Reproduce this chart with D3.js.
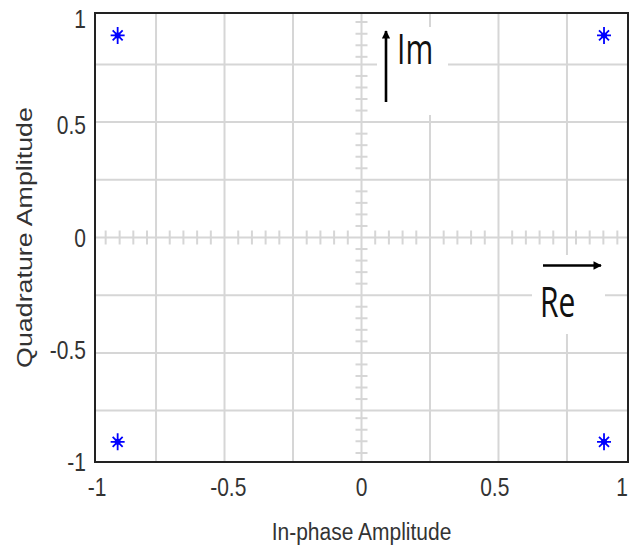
<!DOCTYPE html>
<html>
<head>
<meta charset="utf-8">
<script src="https://cdn.jsdelivr.net/npm/d3@7"></script>
<style>
  html, body { margin: 0; padding: 0; background: #fff; }
  svg { display: block; }
</style>
</head>
<body>
<svg id="chart" width="636" height="547"></svg>
<script>
// ---- data ----
const xTicks = [-1, -0.5, 0, 0.5, 1];
const xTickLabels = ["-1", "-0.5", "0", "0.5", "1"];
const yTicks = [-1, -0.5, 0, 0.5, 1];
const yTickLabels = ["-1", "-0.5", "0", "0.5", "1"];
const pointsI = [-0.915, 0.91, -0.915, 0.91];
const pointsQ = [0.9, 0.9, -0.91, -0.91];
const gridDivisions = [-0.771, -0.514, -0.257, 0.257, 0.514, 0.771];
const minorTickValues = [-0.96, -0.9076, -0.8562, -0.8048,
  -0.7196, -0.6682, -0.6168, -0.5654,
  -0.4626, -0.4112, -0.3598, -0.3084,
  -0.2056, -0.1542, -0.1028, -0.0514,
  0.0514, 0.1028, 0.1542, 0.2056,
  0.3084, 0.3598, 0.4112, 0.4626,
  0.5654, 0.6168, 0.6682, 0.7196,
  0.8048, 0.8562, 0.9076, 0.96];
const xTitle = "In-phase Amplitude";
const yTitle = "Quadrature Amplitude";

// ---- layout ----
const L = 95, R = 628, T = 13, B = 462;
const svg = d3.select("#chart");
svg.append("rect").attr("width", 636).attr("height", 547).attr("fill", "#fff");

const x = d3.scaleLinear().domain([-1, 1]).range([L, R]);
const y = d3.scaleLinear().domain([-1, 1]).range([B, T]);

const gridColor = "#d6d6d6";
const g = svg.append("g");

// grid lines
g.selectAll("line.gx").data(gridDivisions).join("line")
  .attr("x1", d => x(d)).attr("x2", d => x(d))
  .attr("y1", T).attr("y2", B)
  .attr("stroke", gridColor).attr("stroke-width", 2);
g.selectAll("line.gy").data(gridDivisions).join("line")
  .attr("y1", d => y(d)).attr("y2", d => y(d))
  .attr("x1", L).attr("x2", R)
  .attr("stroke", gridColor).attr("stroke-width", 2);

// center axes
g.append("line").attr("x1", x(0)).attr("x2", x(0)).attr("y1", T).attr("y2", B)
  .attr("stroke", gridColor).attr("stroke-width", 2);
g.append("line").attr("y1", y(0)).attr("y2", y(0)).attr("x1", L).attr("x2", R)
  .attr("stroke", gridColor).attr("stroke-width", 2);

// minor ticks on center axes
g.selectAll("line.mx").data(minorTickValues).join("line")
  .attr("x1", d => x(d)).attr("x2", d => x(d))
  .attr("y1", y(0) - 7).attr("y2", y(0) + 7)
  .attr("stroke", gridColor).attr("stroke-width", 2);
g.selectAll("line.my").data(minorTickValues).join("line")
  .attr("y1", d => y(d)).attr("y2", d => y(d))
  .attr("x1", x(0) - 6).attr("x2", x(0) + 6)
  .attr("stroke", gridColor).attr("stroke-width", 2);

// white boxes behind annotations
svg.append("rect").attr("x", 377).attr("y", 27).attr("width", 71).attr("height", 88).attr("fill", "#fff");
svg.append("rect").attr("x", 532).attr("y", 255).attr("width", 73).attr("height", 79).attr("fill", "#fff");

// plot border
svg.append("rect").attr("x", L).attr("y", T).attr("width", R - L).attr("height", B - T)
  .attr("fill", "none").attr("stroke", "#222").attr("stroke-width", 2);

// tick labels
const tickFont = "'Liberation Sans', Arial, sans-serif";
const textColor = "#333";
svg.selectAll("text.xt").data(xTicks).join("text")
  .attr("transform", (d, i) => `translate(${Math.min(Math.max(x(d), L + 2), R - 6)},496) scale(1,1.2)`)
  .attr("text-anchor", "middle")
  .attr("font-family", tickFont).attr("font-size", 21).attr("fill", textColor)
  .text((d, i) => xTickLabels[i]);
svg.selectAll("text.yt").data(yTicks).join("text")
  .attr("transform", d => `translate(86,${Math.max(y(d) + 9, 28)}) scale(1,1.2)`)
  .attr("text-anchor", "end")
  .attr("font-family", tickFont).attr("font-size", 21).attr("fill", textColor)
  .text((d, i) => yTickLabels[i]);

// axis titles
svg.append("text")
  .attr("transform", `translate(${(L + R) / 2},540) scale(1,1.15)`)
  .attr("text-anchor", "middle")
  .attr("font-family", tickFont).attr("font-size", 21).attr("fill", textColor)
  .text(xTitle);
svg.append("text")
  .attr("transform", `translate(32,${(T + B) / 2}) rotate(-90) scale(1.22,1)`)
  .attr("text-anchor", "middle")
  .attr("font-family", tickFont).attr("font-size", 22).attr("fill", textColor)
  .text(yTitle);

// points (blue asterisks)
const pts = pointsI.map((v, i) => ({ i: v, q: pointsQ[i] }));
const star = "M0,-8.5L0,8.5M-7,0L7,0M-5,-5L5,5M-5,5L5,-5";
const pg = svg.selectAll("g.pt").data(pts).join("g")
  .attr("transform", d => `translate(${x(d.i)},${y(d.q)})`);
pg.append("path").attr("d", star).attr("stroke", "#0000ff").attr("stroke-width", 1.8).attr("fill", "none");
pg.append("circle").attr("r", 3).attr("fill", "#0000ff");

// annotations: Im and Re arrows
const defs = svg.append("defs");
defs.append("marker").attr("id", "ah").attr("viewBox", "0 0 10 10")
  .attr("refX", 9).attr("refY", 5).attr("markerWidth", 3.6).attr("markerHeight", 3.2)
  .attr("orient", "auto").attr("markerUnits", "strokeWidth")
  .append("path").attr("d", "M0,0L10,5L0,10Z").attr("fill", "#000");

svg.append("line").attr("x1", 386).attr("y1", 102).attr("x2", 386).attr("y2", 31)
  .attr("stroke", "#000").attr("stroke-width", 2.6).attr("marker-end", "url(#ah)");
svg.append("line").attr("x1", 543).attr("y1", 265.5).attr("x2", 601).attr("y2", 265.5)
  .attr("stroke", "#000").attr("stroke-width", 2.6).attr("marker-end", "url(#ah)");

const annFont = "'Open Sans', 'Noto Sans', sans-serif";
svg.append("text").attr("transform", "translate(397,63.5) scale(1,1.4)")
  .attr("font-family", annFont).attr("font-size", 30).attr("fill", "#111").text("Im");
svg.append("text").attr("transform", "translate(540,317) scale(1,1.4)")
  .attr("font-family", annFont).attr("font-size", 30).attr("fill", "#111").text("Re");
</script>
</body>
</html>
